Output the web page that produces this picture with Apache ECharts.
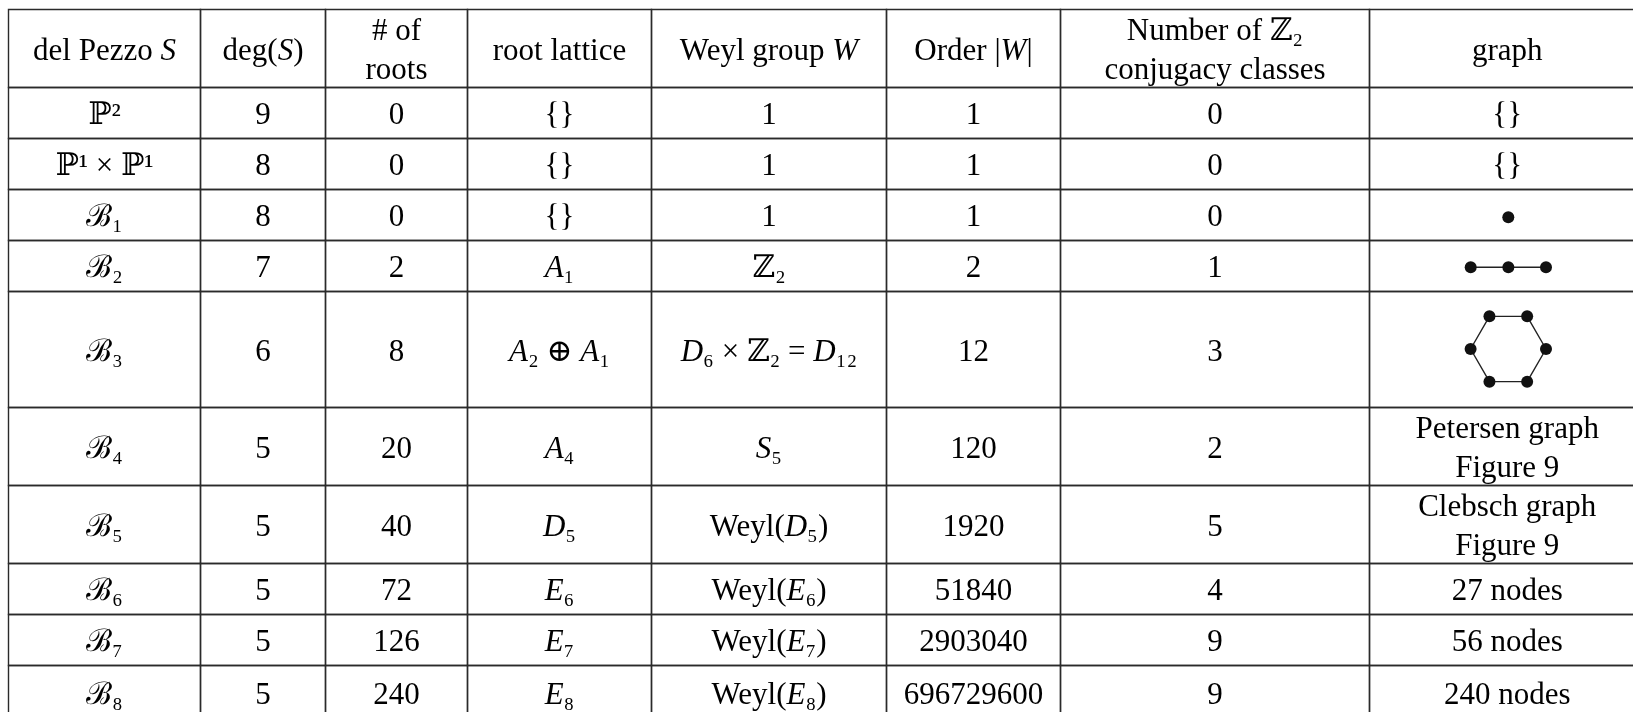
<!DOCTYPE html>
<html>
<head>
<meta charset="utf-8">
<title>del Pezzo surfaces - root data</title>
<script src="https://cdn.jsdelivr.net/npm/echarts@6/dist/echarts.min.js"></script>
<style>
    html, body { margin: 0; padding: 0; background: #fff; }
    #del_pezzo_table { width: 1633px; height: 712px; }
</style>
</head>
<body>
<div id="del_pezzo_table"></div>
<script>

// Table data
// ------------------------------

var headers = ['del Pezzo {i|S}', 'deg({i|S})', '# of\nroots', 'root lattice', 'Weyl group {i|W}',
    'Order |{i|W}|', 'Number of ℤ₂\nconjugacy classes', 'graph'];

var surfaces = ['ℙ²', 'ℙ¹ × ℙ¹', 'ℬ₁', 'ℬ₂', 'ℬ₃', 'ℬ₄', 'ℬ₅', 'ℬ₆', 'ℬ₇', 'ℬ₈'];
var degrees = [9, 8, 8, 7, 6, 5, 5, 5, 5, 5];
var rootCounts = [0, 0, 0, 2, 8, 20, 40, 72, 126, 240];
var rootLattices = ['{}', '{}', '{}', '{i|A}₁', '{i|A}₂ ⊕ {i|A}₁', '{i|A}₄', '{i|D}₅', '{i|E}₆', '{i|E}₇', '{i|E}₈'];
var weylGroups = ['1', '1', '1', 'ℤ₂', '{i|D}₆ × ℤ₂ = {i|D}₁₂', '{i|S}₅', 'Weyl({i|D}₅)', 'Weyl({i|E}₆)', 'Weyl({i|E}₇)', 'Weyl({i|E}₈)'];
var weylOrders = [1, 1, 1, 2, 12, 120, 1920, 51840, 2903040, 696729600];
var z2Classes = [0, 0, 0, 1, 3, 2, 5, 4, 9, 9];
var graphs = ['{}', '{}', '', '', '', 'Petersen graph\nFigure 9', 'Clebsch graph\nFigure 9', '27 nodes', '56 nodes', '240 nodes'];

// Small graphs drawn in the graph column
var singleNode = ['v1'];
var singleValues = [0];
var pathNodes = ['v1', 'v2', 'v3'];
var pathValues = [0, 0, 0];
var hexNodes = ['v1', 'v2', 'v3', 'v4', 'v5', 'v6'];
var hexValues = [1, 1, 1, 1, 1, 1];


// Setup module
// ------------------------------

var DelPezzoTable = function() {

    // Layout: cell edges in page pixels
    var colEdges = [8.5, 200.5, 325.5, 467.5, 651.5, 886.5, 1060.5, 1369.5, 1645];
    var rowEdges = [9.5, 87.5, 138.5, 189.5, 240.5, 291.5, 407.5, 485.5, 563.5, 614.5, 665.5, 720];

    var fontFamily = '"Liberation Serif", "DejaVu Serif", serif';
    var fontSize = 31;
    var lineGap = 39;
    var textShift = 3;
    var lineColor = '#2a2a2a';

    var _tableChart = function() {
        if (typeof echarts == 'undefined') {
            console.warn('Warning - echarts.min.js is not loaded.');
            return;
        }

        var table_element = document.getElementById('del_pezzo_table');
        if (!table_element) {
            return;
        }

        // Build rows from the column arrays
        var rows = [headers];
        for (var i = 0; i < surfaces.length; i++) {
            rows.push([
                surfaces[i], String(degrees[i]), String(rootCounts[i]), rootLattices[i],
                weylGroups[i], String(weylOrders[i]), String(z2Classes[i]), graphs[i]
            ]);
        }

        var cells = [];
        rows.forEach(function(row, r) {
            row.forEach(function(txt, c) {
                cells.push([c, r]);
            });
        });

        var richStyles = {
            i: {
                fontFamily: fontFamily,
                fontSize: fontSize,
                fontStyle: 'italic',
                lineHeight: lineGap,
                fill: '#000'
            }
        };

        var table_chart = echarts.init(table_element, null, { renderer: 'canvas' });

        table_chart.setOption({
            animation: false,
            backgroundColor: '#fff',

            grid: [
                { left: 0, top: 0, right: 0, bottom: 0 },
                { left: 1470.7, top: 257.3, width: 75.3, height: 20 },
                { left: 1498.3, top: 207.3, width: 20, height: 20 }
            ],

            xAxis: [
                { type: 'value', gridIndex: 0, min: 0, max: 1633, show: false },
                { type: 'category', gridIndex: 1, data: pathNodes, boundaryGap: false, show: false },
                { type: 'category', gridIndex: 2, data: singleNode, boundaryGap: true, show: false }
            ],

            yAxis: [
                { type: 'value', gridIndex: 0, min: 0, max: 712, inverse: true, show: false },
                { type: 'value', gridIndex: 1, min: -1, max: 1, show: false },
                { type: 'value', gridIndex: 2, min: -1, max: 1, show: false }
            ],

            radar: {
                center: [1508.3, 349],
                radius: 37.7,
                startAngle: 0,
                indicator: hexNodes.map(function(n) { return { name: n, min: 0, max: 1 }; }),
                axisName: { show: false },
                axisLine: { show: false },
                splitLine: { show: false },
                splitArea: { show: false }
            },

            series: [
                // Table cells
                {
                    type: 'custom',
                    xAxisIndex: 0,
                    yAxisIndex: 0,
                    silent: true,
                    clip: false,
                    data: cells,
                    renderItem: function(params, api) {
                        var c = api.value(0);
                        var r = api.value(1);
                        var p0 = api.coord([colEdges[c], rowEdges[r]]);
                        var p1 = api.coord([colEdges[c + 1], rowEdges[r + 1]]);
                        return {
                            type: 'group',
                            children: [
                                {
                                    type: 'rect',
                                    shape: { x: p0[0], y: p0[1], width: p1[0] - p0[0], height: p1[1] - p0[1] },
                                    style: { fill: null, stroke: lineColor, lineWidth: 1.4 }
                                },
                                {
                                    type: 'text',
                                    style: {
                                        text: rows[r][c],
                                        x: (p0[0] + p1[0]) / 2,
                                        y: (p0[1] + p1[1]) / 2 + textShift,
                                        align: 'center',
                                        verticalAlign: 'middle',
                                        fontFamily: fontFamily,
                                        fontSize: fontSize,
                                        lineHeight: lineGap,
                                        fill: '#000',
                                        rich: richStyles
                                    }
                                }
                            ]
                        };
                    }
                },

                // B2 graph: path on three nodes
                {
                    type: 'line',
                    xAxisIndex: 1,
                    yAxisIndex: 1,
                    data: pathValues,
                    symbol: 'circle',
                    symbolSize: 12,
                    showSymbol: true,
                    silent: true,
                    itemStyle: { color: '#111', borderWidth: 0, opacity: 1 },
                    lineStyle: { color: '#222', width: 1.4 }
                },

                // B1 graph: a single node
                {
                    type: 'scatter',
                    xAxisIndex: 2,
                    yAxisIndex: 2,
                    data: singleValues,
                    symbol: 'circle',
                    symbolSize: 12,
                    silent: true,
                    itemStyle: { color: '#111', opacity: 1 }
                },

                // B3 graph: hexagon
                {
                    type: 'radar',
                    silent: true,
                    symbol: 'circle',
                    symbolSize: 12,
                    itemStyle: { color: '#111', borderWidth: 0, opacity: 1 },
                    lineStyle: { color: '#222', width: 1.4 },
                    data: [{ value: hexValues }]
                }
            ]
        });

        // Resize chart on window resize
        var resizeCharts;
        window.addEventListener('resize', function() {
            clearTimeout(resizeCharts);
            resizeCharts = setTimeout(function() {
                table_chart.resize();
            }, 200);
        });
    };

    return {
        init: function() {
            _tableChart();
        }
    }
}();


// Initialize module
// ------------------------------

document.addEventListener('DOMContentLoaded', function() {
    DelPezzoTable.init();
});
</script>
</body>
</html>
